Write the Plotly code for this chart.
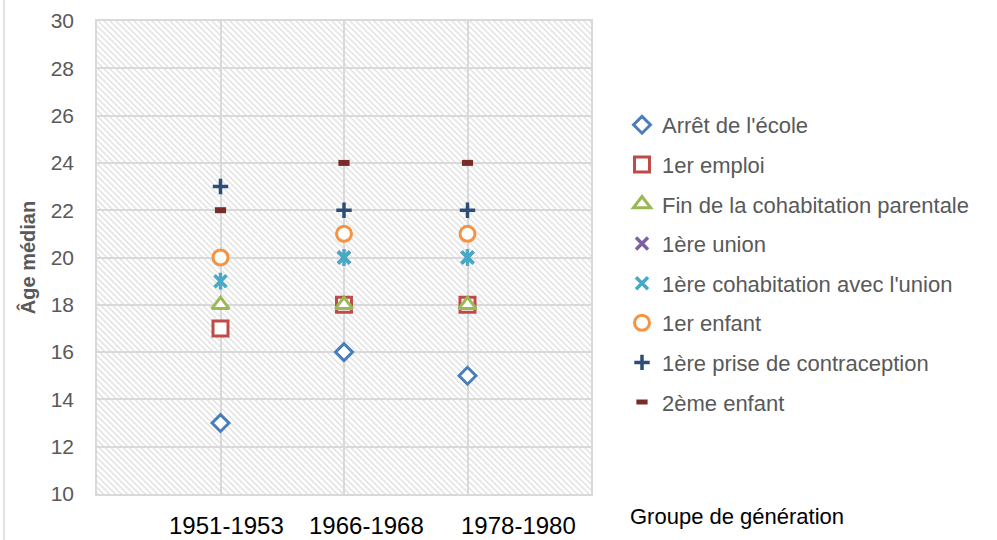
import base64
import plotly.graph_objects as go

# ---------------- data ----------------
generations = ["1951-1953", "1966-1968", "1978-1980"]
series_names = [
    "Arrêt de l'école",
    "1er emploi",
    "Fin de la cohabitation parentale",
    "1ère union",
    "1ère cohabitation avec l'union",
    "1er enfant",
    "1ère prise de contraception",
    "2ème enfant",
]
arret_ecole = [13, 16, 15]
premier_emploi = [17, 18, 18]
fin_cohab_parentale = [18, 18, 18]
premiere_union = [20, 20, 20]
premiere_cohab_union = [19, 20, 20]
premier_enfant = [20, 21, 21]
premiere_contraception = [23, 22, 22]
deuxieme_enfant = [22, 24, 24]
y_ticks = [10, 12, 14, 16, 18, 20, 22, 24, 26, 28, 30]

values = [arret_ecole, premier_emploi, fin_cohab_parentale, premiere_union,
          premiere_cohab_union, premier_enfant, premiere_contraception, deuxieme_enfant]

# ---------------- style ----------------
W, H = 997, 540
ML, MR, MT, MB = 97, 406, 21, 46
PW, PH = W - ML - MR, H - MT - MB
GRID = "#d9d9d9"
TXT = "#595959"
FONT = "Liberation Sans, Arial, sans-serif"

styles = [
    dict(symbol="diamond", size=13, color="white", line=dict(color="#4A7EBB", width=3)),
    dict(symbol="square", size=15, color="white", line=dict(color="#BE4B48", width=3)),
    dict(symbol="triangle-up", size=15, color="white", line=dict(color="#98B954", width=3)),
    dict(symbol="x-thin", size=12, line=dict(color="#7D60A0", width=3.5)),
    dict(symbol="x-thin", size=12, line=dict(color="#46AAC5", width=3.5)),
    dict(symbol="circle", size=15, color="white", line=dict(color="#F69240", width=3)),
    dict(symbol="cross-thin", size=11, line=dict(color="#2C4D75", width=3.5)),
    dict(symbol="line-ew", size=8, line=dict(color="#772C2A", width=6)),
]

x_pos = [i + 1 for i in range(len(generations))]

fig = go.Figure()
for k, (name, vals, st) in enumerate(zip(series_names, values, styles)):
    fig.add_trace(go.Scatter(
        x=x_pos, y=vals, name=name, mode="markers", marker=st,
        legendgroup=f"g{k}", cliponaxis=False,
    ))
    if k == 4:  # vertical stroke of the asterisk marker
        fig.add_trace(go.Scatter(
            x=x_pos, y=vals, name=name, mode="markers", showlegend=False,
            legendgroup=f"g{k}", cliponaxis=False,
            marker=dict(symbol="line-ns", size=12, line=dict(color="#46AAC5", width=3.5)),
        ))

# hatched plot background
svg = (f'<svg xmlns="http://www.w3.org/2000/svg" width="{PW}" height="{PH}" '
       f'viewBox="0 0 {PW} {PH}" preserveAspectRatio="none"><defs>'
       '<pattern id="h" width="4.24" height="10" patternUnits="userSpaceOnUse" '
       'patternTransform="rotate(-45)"><rect x="0" y="0" width="1.5" height="10" fill="#e2e2e2"/>'
       '</pattern></defs><rect width="100%" height="100%" fill="#ffffff"/>'
       '<rect width="100%" height="100%" fill="url(#h)"/></svg>')
src = "data:image/svg+xml;base64," + base64.b64encode(svg.encode()).decode()
fig.add_layout_image(dict(source=src, xref="paper", yref="paper", x=0, y=1,
                          sizex=1, sizey=1, sizing="stretch", layer="below",
                          xanchor="left", yanchor="top"))

# category labels (offset as in the original)
label_shift = [0.045, 0.18, 0.41]
for xp, lab, sh in zip(x_pos, generations, label_shift):
    fig.add_annotation(x=xp + sh, y=-31 / PH, xref="x", yref="paper", text=lab,
                       showarrow=False, font=dict(size=24, color="#000000", family=FONT),
                       xanchor="center", yanchor="middle")

fig.add_annotation(x=(628 - ML) / PW, y=-22 / PH, xref="paper", yref="paper",
                   text="Groupe de génération", showarrow=False, xanchor="left",
                   yanchor="middle", font=dict(size=22, color="#000000", family=FONT))

# outer chart border (left edge visible)
fig.add_shape(type="line", xref="paper", yref="paper",
              x0=(4 - ML) / PW, x1=(4 - ML) / PW, y0=-(MB) / PH, y1=1 + MT / PH,
              line=dict(color=GRID, width=1.5))

fig.update_layout(
    width=W, height=H,
    margin=dict(l=ML, r=MR, t=MT, b=MB, autoexpand=False),
    paper_bgcolor="white", plot_bgcolor="rgba(0,0,0,0)",
    font=dict(family=FONT, color=TXT),
    showlegend=True,
    legend=dict(x=(622 - ML) / PW, xanchor="left", y=(MT + PH - 104) / PH, yanchor="top",
                font=dict(size=22, color=TXT, family=FONT), tracegroupgap=8,
                bgcolor="rgba(0,0,0,0)", itemwidth=30),
    xaxis=dict(range=[0, len(generations) + 1], tickvals=x_pos, ticktext=["", "", ""],
               showgrid=True, gridcolor=GRID, gridwidth=1.5, zeroline=False,
               showline=True, linecolor=GRID, linewidth=1.5, mirror=True, ticks=""),
    yaxis=dict(range=[y_ticks[0], y_ticks[-1]], tickvals=y_ticks, showgrid=True,
               gridcolor=GRID, gridwidth=1.5, zeroline=False, showline=True,
               linecolor=GRID, linewidth=1.5, mirror=True, ticks="",
               tickfont=dict(size=21, color=TXT, family=FONT), ticklabelstandoff=17,
               title=dict(text="<b>Âge médian</b>", standoff=10,
                          font=dict(size=20, color=TXT, family=FONT))),
)

fig.write_html("out.html", config={"displayModeBar": False},
               post_script="document.body.style.margin='0';")
